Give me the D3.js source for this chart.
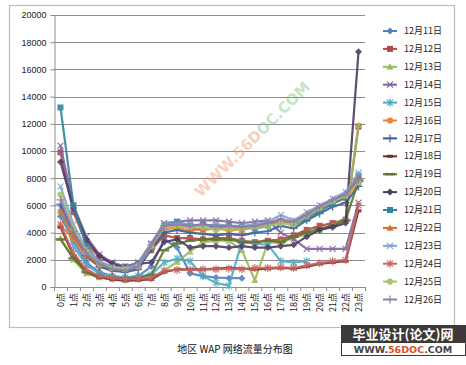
<!DOCTYPE html>
<html>
<head>
<meta charset="utf-8">
<script src="https://cdn.jsdelivr.net/npm/d3@7"></script>
<style>
  body { margin: 0; background: #fff; }
  svg { display: block; }
</style>
</head>
<body>
<div id="chart"></div>
<script>
// categories
const hours = d3.range(24).map(h => h + "点");
const yTicks = [0, 2000, 4000, 6000, 8000, 10000, 12000, 14000, 16000, 18000, 20000];
const seriesNames = ["12月11日", "12月12日", "12月13日", "12月14日", "12月15日", "12月16日", "12月17日", "12月18日",
  "12月19日", "12月20日", "12月21日", "12月22日", "12月23日", "12月24日", "12月25日", "12月26日"];

// values (null = no data)
const d11 = [5200, 3400, 1800, 1100, 800, 700, 800, 1500, 3500, 2900, 1000, 800, 700, 650, 650, null, null, null, null, null, null, null, null, null];
const d12 = [9900, 5500, 3200, 2200, 1700, 1500, 1700, 2700, 3800, 3600, 3600, 3500, 3600, 3600, 3400, 3300, 3400, 3500, 3800, 4200, 4500, 4700, 4950, 11800];
const d13 = [3600, 2000, 1000, 700, 600, 550, 600, 700, 1200, 1850, 2600, 3300, 3400, 3400, 2700, 500, 3250, 3300, 3600, 3900, 4200, 4500, 5000, 11900];
const d14 = [10400, 6000, 3700, 2400, 1800, 1500, 1800, 3200, 4700, 4800, 4900, 4900, 4900, 4800, 4700, 4800, 4900, 4000, 3500, 2800, 2800, 2800, 2800, 6200];
const d15 = [5800, 3000, 1600, 1000, 800, 700, 800, 900, 1800, 2100, 1900, 800, 300, 100, 3300, 3200, 3100, 1900, 1800, 1900, null, null, null, null];
const d16 = [4500, 3600, 2200, 1500, 1300, 1200, 1400, 2900, 4200, 4400, 4100, 4300, 4400, 4100, 4300, 4500, 4600, 4800, 4500, 5200, 5700, 6200, 6500, 7600];
const d17 = [6100, 3900, 2300, 1500, 1200, 1100, 1300, 2800, 4000, 4200, 4000, 3900, 3800, 3900, 3800, 4000, 4100, 4500, 4300, 4900, 5400, 5900, 6200, 7400];
const d18 = [4400, 2300, 1100, 700, 550, 450, 500, 550, 1100, 1300, 1300, 1300, 1350, 1400, 1350, 1300, 1350, 1400, 1350, 1500, 1700, 1800, 1900, 5600];
const d19 = [3500, 2100, 1100, 800, 650, 600, 650, 900, 2700, 3200, 3400, 3500, 3500, 3500, 3300, 3300, 3400, 3300, 3700, 4000, 4300, 4500, 4900, 7800];
const d20 = [9200, 5800, 3500, 2300, 1700, 1400, 1700, 1800, 3300, 3500, 2900, 3000, 3000, 2900, 3000, 2900, 2900, 3000, 3100, 3700, 4200, 4400, 4700, 17300];
const d21 = [13200, 6000, 3000, 1800, 1400, 1300, 1500, 2900, 4500, 4800, 4500, 4600, 4400, 4500, 4400, 4300, 4500, 4800, 4600, 5000, 5600, 6100, 6600, 8200];
const d22 = [5600, 3700, 2400, 1600, 1400, 1300, 1500, 3000, 4400, 4600, 4300, 4200, 4300, 4400, 4200, 4400, 4700, 4900, 4700, 5400, 5900, 6400, 6900, 8000];
const d23 = [7400, 4600, 2800, 1900, 1500, 1400, 1700, 3100, 4600, 4700, 4600, 4500, 4600, 4500, 4500, 4600, 4800, 5300, 4900, 5500, 6000, 6500, 7000, 8400];
const d24 = [4600, 2500, 1300, 800, 650, 550, 600, 650, 1200, 1250, 1250, 1300, 1300, 1350, 1300, 1400, 1400, 1450, 1400, 1600, 1750, 1900, 2000, 6000];
const d25 = [6800, 4300, 2600, 1700, 1400, 1300, 1500, 3000, 4400, 4500, 4400, 4400, 4200, 4300, 4300, 4400, 4500, 4700, 4600, 5200, 5800, 6300, 6700, 7700];
const d26 = [6400, 4100, 2500, 1700, 1300, 1200, 1500, 3100, 4500, 4600, 4500, 4600, 4500, 4500, 4400, 4500, 4700, 5000, 4800, 5300, 5900, 6400, 6800, 7900];

const allValues = [d11, d12, d13, d14, d15, d16, d17, d18, d19, d20, d21, d22, d23, d24, d25, d26];
const colors = ["#4F81BD", "#B04A46", "#9BBB59", "#8064A2", "#4BACC6", "#E8853F", "#3A5F9A", "#772C2A",
  "#5F7530", "#4D3B62", "#31859C", "#D0722E", "#7FA3D0", "#CD6462", "#A6C46E", "#8E7BAE"];
const markers = ["diamond", "square", "triangle", "x", "star", "circle", "plus", "dash",
  "longdash", "diamond", "square", "triangle", "x", "star", "circle", "plus"];

const W = 466, H = 365;
const svg = d3.select("#chart").append("svg").attr("width", W).attr("height", H);

// outer frame
svg.append("rect").attr("x", 9.5).attr("y", 5.5).attr("width", 445).attr("height", 322)
  .attr("fill", "#fff").attr("stroke", "#BDBDBD").attr("stroke-width", 1.2);

const x = d3.scaleBand().domain(hours).range([54, 365]).padding(0);
const y = d3.scaleLinear().domain([0, 20000]).range([287, 15]);
const cx = h => x(h) + x.bandwidth() / 2;

// gridlines
svg.append("g").selectAll("line").data(yTicks.filter(d => d > 0)).enter().append("line")
  .attr("x1", 54).attr("x2", 365)
  .attr("y1", d => Math.round(y(d)) + 0.5).attr("y2", d => Math.round(y(d)) + 0.5)
  .attr("stroke", "#8C8C8C").attr("stroke-width", 1);

// y axis
const yAxis = svg.append("g").attr("transform", "translate(54.5,0)")
  .call(d3.axisLeft(y).tickValues(yTicks).tickSize(4).tickFormat(d3.format("d")));
yAxis.select(".domain").attr("stroke", "#8C8C8C");
yAxis.selectAll(".tick line").attr("stroke", "#8C8C8C");
yAxis.selectAll("text").attr("font-family", "Liberation Sans, Arial, sans-serif")
  .attr("font-size", 9).attr("fill", "#222").attr("x", -8);

// x axis
svg.append("line").attr("x1", 54).attr("x2", 365).attr("y1", 287.5).attr("y2", 287.5).attr("stroke", "#8C8C8C");
svg.append("g").selectAll("line").data(hours.concat(["end"])).enter().append("line")
  .attr("x1", d => (d === "end" ? 365 : x(d)) + 0.5).attr("x2", d => (d === "end" ? 365 : x(d)) + 0.5)
  .attr("y1", 287).attr("y2", 291).attr("stroke", "#8C8C8C");
svg.append("g").selectAll("text").data(hours).enter().append("text")
  .attr("transform", d => "translate(" + (cx(d) + 3.5) + ",293) rotate(-90)")
  .attr("text-anchor", "end")
  .attr("font-family", "Noto Sans CJK SC, sans-serif").attr("font-size", 9).attr("fill", "#222")
  .text(d => d);

// diagonal watermark
const wm = svg.append("text")
  .attr("transform", "translate(256,143) rotate(-45)")
  .attr("text-anchor", "middle")
  .attr("font-family", "DejaVu Sans, sans-serif").attr("font-weight", "bold").attr("font-size", 15)
  .attr("opacity", 0.45);
wm.append("tspan").attr("fill", "#F29A6B").text("WWW.56D");
wm.append("tspan").attr("fill", "#7DC47F").text("OC.COM");

// marker shapes
function drawMarker(g, type, color) {
  if (type === "diamond") g.append("path").attr("d", "M0,-3.5L3.5,0L0,3.5L-3.5,0Z").attr("fill", color);
  else if (type === "square") g.append("rect").attr("x", -3).attr("y", -3).attr("width", 6).attr("height", 6).attr("fill", color);
  else if (type === "triangle") g.append("path").attr("d", "M0,-3.5L3.5,2.8L-3.5,2.8Z").attr("fill", color);
  else if (type === "circle") g.append("circle").attr("r", 3.1).attr("fill", color);
  else if (type === "x") g.append("path").attr("d", "M-3,-3L3,3M3,-3L-3,3").attr("stroke", color).attr("stroke-width", 1.2);
  else if (type === "star") g.append("path").attr("d", "M-3,-3L3,3M3,-3L-3,3M0,-4L0,4").attr("stroke", color).attr("stroke-width", 1.2);
  else if (type === "plus") g.append("path").attr("d", "M-4,0L4,0M0,-4L0,4").attr("stroke", color).attr("stroke-width", 1.2);
  else if (type === "dash") g.append("path").attr("d", "M-3,0L3,0").attr("stroke", color).attr("stroke-width", 3);
  else if (type === "longdash") g.append("path").attr("d", "M-5,0L5,0").attr("stroke", color).attr("stroke-width", 2.5);
}

// lines
const line = d3.line().defined(d => d.v != null).x(d => cx(d.h)).y(d => y(d.v));
allValues.forEach((vals, i) => {
  const pts = vals.map((v, k) => ({ h: hours[k], v: v }));
  const g = svg.append("g").attr("opacity", 0.9);
  g.append("path").datum(pts).attr("d", line)
    .attr("fill", "none").attr("stroke", colors[i]).attr("stroke-width", 2.2)
    .attr("stroke-linejoin", "round");
  pts.filter(d => d.v != null).forEach(d => {
    const m = g.append("g").attr("transform", "translate(" + cx(d.h) + "," + y(d.v) + ")");
    drawMarker(m, markers[i], colors[i]);
  });
});

// legend
const leg = svg.append("g");
seriesNames.forEach((name, i) => {
  const ly = 31 + i * 17.9;
  const row = leg.append("g").attr("transform", "translate(0," + ly + ")");
  row.append("line").attr("x1", 383).attr("x2", 397).attr("y1", 0).attr("y2", 0)
    .attr("stroke", colors[i]).attr("stroke-width", 2);
  drawMarker(row.append("g").attr("transform", "translate(390,0)"), markers[i], colors[i]);
  row.append("text").attr("x", 404).attr("y", 0).attr("dy", "0.35em")
    .attr("font-family", "Noto Sans CJK SC, sans-serif").attr("font-size", 9).attr("fill", "#222")
    .text(name);
});

// title
svg.append("text").attr("x", 235).attr("y", 353).attr("text-anchor", "middle")
  .attr("font-family", "Noto Sans CJK SC, sans-serif").attr("font-size", 10).attr("fill", "#111")
  .text("地区 WAP 网络流量分布图");

// site stamp, bottom right
const st = svg.append("g");
st.append("rect").attr("x", 341).attr("y", 325).attr("width", 125).attr("height", 17).attr("fill", "#3A3A3A");
st.append("text").attr("x", 403).attr("y", 339).attr("text-anchor", "middle")
  .attr("font-family", "Noto Sans CJK SC, sans-serif").attr("font-weight", "bold").attr("font-size", 13)
  .attr("fill", "#fff").text("毕业设计(论文)网");
st.append("rect").attr("x", 341.5).attr("y", 342.5).attr("width", 124).attr("height", 13)
  .attr("fill", "#fff").attr("stroke", "#3A3A3A");
const st2 = st.append("text").attr("x", 403).attr("y", 353).attr("text-anchor", "middle")
  .attr("font-family", "DejaVu Sans, sans-serif").attr("font-weight", "bold").attr("font-size", 9.5)
  .attr("fill", "#444");
st2.append("tspan").text("WWW.");
st2.append("tspan").attr("fill", "#E0502A").text("56DOC");
st2.append("tspan").text(".COM");
</script>
</body>
</html>
